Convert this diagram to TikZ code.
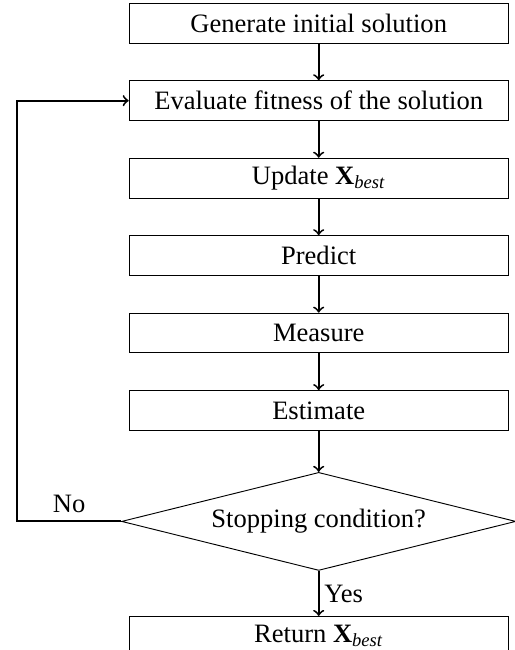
\documentclass[tikz,border=0pt]{standalone}
\usepackage{fontspec}
\setmainfont{Liberation Serif}
\usetikzlibrary{positioning,shapes.geometric}
\newcommand{\xbest}{\textbf{X}\textsubscript{\itshape best}}
\tikzset{
	stepbox/.style={draw, line width=0.4pt, minimum width=5.72cm, minimum height=0.6cm, inner sep=0pt},
	decide/.style={draw, diamond, aspect=4, line width=0.4pt, minimum width=5.95cm, minimum height=1.48cm, inner sep=0pt},
	flow/.style={->, line width=0.8pt},
}
\begin{document}
\begin{tikzpicture}[node distance=0.555cm, font=\fontsize{11.4pt}{13pt}\selectfont]
		%%%%% START %%%%%
		\useasboundingbox (0,0) rectangle (7.76,-9.81);
		
		\node[stepbox] (gen) at (4.81,-0.35) {Generate initial solution};
		\node[stepbox, below=of gen] (eval) {Evaluate fitness of the solution};
		\node[stepbox, below=of eval] (upd) {Update \xbest};
		\node[stepbox, below=of upd] (pred) {Predict};
		\node[stepbox, below=of pred] (meas) {Measure};
		\node[stepbox, below=of meas] (est) {Estimate};
		\node[decide, below=0.62cm of est] (cond) {Stopping condition?};
		\node[stepbox, below=0.68cm of cond] (ret) {Return \xbest};
		
		\draw[flow] (gen) -- (eval);
		\draw[flow] (eval) -- (upd);
		\draw[flow] (upd) -- (pred);
		\draw[flow] (pred) -- (meas);
		\draw[flow] (meas) -- (est);
		\draw[flow] (est) -- (cond);
		\draw[flow] (cond) -- node[right, inner sep=2pt] {Yes} (ret);
		\draw[flow] (cond.west) -- node[above] {No} ++(-1.57,0) |- (eval.west);
		
		%%%%% END %%%%%
\end{tikzpicture}
\end{document}
